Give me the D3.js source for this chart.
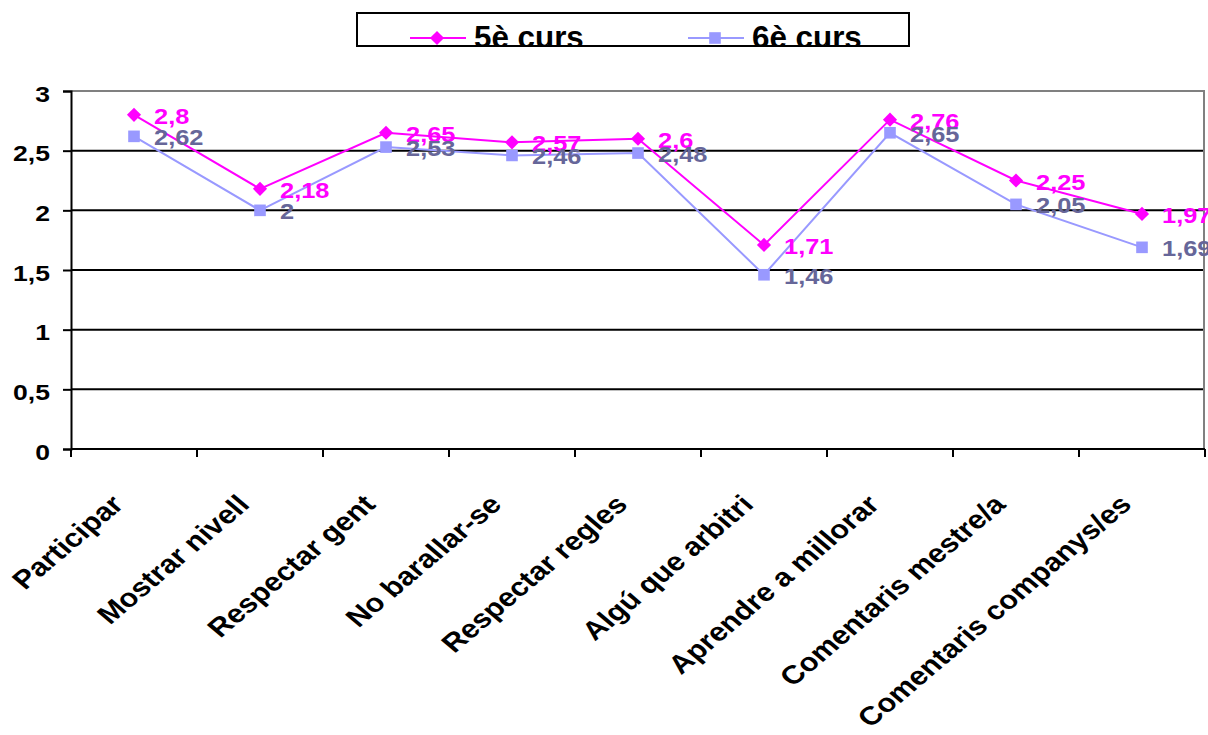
<!doctype html>
<html>
<head>
<meta charset="utf-8">
<title>Chart</title>
<script src="https://cdn.jsdelivr.net/npm/d3@7"></script>
<style>
  body { margin: 0; background: #fff; }
  svg { display: block; }
  text { font-family: "Liberation Sans", Arial, sans-serif; font-weight: bold; }
</style>
</head>
<body>
<script>
// data
var categories = ["Participar", "Mostrar nivell", "Respectar gent", "No barallar-se",
  "Respectar regles", "Algú que arbitri", "Aprendre a millorar",
  "Comentaris mestre/a", "Comentaris companys/es"];
var curs5 = [2.8, 2.18, 2.65, 2.57, 2.6, 1.71, 2.76, 2.25, 1.97];
var curs6 = [2.62, 2, 2.53, 2.46, 2.48, 1.46, 2.65, 2.05, 1.69];
var seriesNames = ["5è curs", "6è curs"];
var yTicks = [0, 0.5, 1, 1.5, 2, 2.5, 3];

var W = 1208, H = 735;
var SX = 1.18; // the original picture is stretched sideways
var fmt = function(v) { return String(v).replace(".", ","); };

var svg = d3.select("body").append("svg")
  .attr("width", W).attr("height", H);

var x = d3.scaleBand().domain(categories).range([71, 1205]);
var y = d3.scaleLinear().domain([0, 3]).range([449, 91]);
var cx = function(d) { return x(d) + x.bandwidth() / 2; };

// gridlines
svg.append("g").selectAll("line")
  .data(yTicks.filter(function(d) { return d > 0 && d < 3; }))
  .enter().append("line")
  .attr("x1", 71).attr("x2", 1204)
  .attr("y1", function(d) { return y(d); }).attr("y2", function(d) { return y(d); })
  .attr("stroke", "#000").attr("stroke-width", 2);

// plot border (top / right)
svg.append("path")
  .attr("d", "M71," + y(3) + "H1204V" + y(0))
  .attr("fill", "none").attr("stroke", "#808080").attr("stroke-width", 2);

// y axis
var yAxis = svg.append("g")
  .attr("transform", "translate(71,0)")
  .call(d3.axisLeft(y).tickValues(yTicks).tickSize(8).tickFormat(fmt));
yAxis.select(".domain").attr("stroke", "#000").attr("stroke-width", 2);
yAxis.selectAll(".tick line").attr("stroke", "#000").attr("stroke-width", 2);
yAxis.selectAll(".tick text")
  .attr("x", null).attr("dy", null)
  .attr("transform", "translate(-21,10) scale(" + SX + ",1)")
  .attr("fill", "#000").attr("font-size", 22.5)
  .style("font-family", "'Liberation Sans', Arial, sans-serif");

// x axis
var xg = svg.append("g");
xg.append("line")
  .attr("x1", 71).attr("x2", 1205).attr("y1", y(0)).attr("y2", y(0))
  .attr("stroke", "#000").attr("stroke-width", 2);
xg.selectAll(".xt")
  .data(categories.map(function(c) { return x(c); }).concat([x.range()[1]]))
  .enter().append("line")
  .attr("x1", function(d) { return d; }).attr("x2", function(d) { return d; })
  .attr("y1", y(0)).attr("y2", y(0) + 8)
  .attr("stroke", "#000").attr("stroke-width", 2);
xg.selectAll(".xl")
  .data(categories)
  .enter().append("text")
  .attr("text-anchor", "end")
  .attr("font-size", 26)
  .attr("transform", function(d) {
    return "translate(" + (cx(d) - 9) + ",506) scale(" + SX + ",1) rotate(-45)";
  })
  .text(function(d) { return d; });

// lines
var series = [
  { name: seriesNames[0], values: curs5, line: "#ff00ff", label: "#ff00ff", rot: 45, size: 100 },
  { name: seriesNames[1], values: curs6, line: "#9999ff", label: "#666699", rot: 0, size: 135 }
];

var line = d3.line()
  .x(function(d, i) { return cx(categories[i]); })
  .y(function(d) { return y(d); });

series.forEach(function(s) {
  svg.append("path")
    .datum(s.values)
    .attr("fill", "none").attr("stroke", s.line).attr("stroke-width", 2)
    .attr("d", line);
});
series.forEach(function(s) {
  svg.append("g").selectAll("path")
    .data(s.values)
    .enter().append("path")
    .attr("d", d3.symbol().type(d3.symbolSquare).size(s.size))
    .attr("transform", function(d, i) {
      return "translate(" + cx(categories[i]) + "," + y(d) + ") rotate(" + s.rot + ")";
    })
    .attr("fill", s.line);
});
series.forEach(function(s) {
  svg.append("g").selectAll("text")
    .data(s.values)
    .enter().append("text")
    .attr("font-size", 22.5)
    .attr("fill", s.label)
    .attr("transform", function(d, i) {
      return "translate(" + (cx(categories[i]) + 20) + "," + (y(d) + 9) + ") scale(1.13,1)";
    })
    .text(fmt);
});

// legend
var defs = svg.append("defs");
defs.append("clipPath").attr("id", "legclip")
  .append("rect").attr("x", 357).attr("y", 13).attr("width", 552).attr("height", 33);
var leg = svg.append("g");
leg.append("rect")
  .attr("x", 357).attr("y", 13).attr("width", 552).attr("height", 33)
  .attr("fill", "#fff").attr("stroke", "#000").attr("stroke-width", 2);
var legX = [410, 688];
var legItems = leg.append("g").attr("clip-path", "url(#legclip)")
  .selectAll("g").data(series).enter().append("g")
  .attr("transform", function(d, i) { return "translate(" + legX[i] + ",0)"; });
legItems.append("line")
  .attr("x1", 0).attr("x2", 56).attr("y1", 38).attr("y2", 38)
  .attr("stroke", function(d) { return d.line; }).attr("stroke-width", 2);
legItems.append("path")
  .attr("d", function(d) { return d3.symbol().type(d3.symbolSquare).size(d.size)(); })
  .attr("transform", function(d) { return "translate(27,38) rotate(" + d.rot + ")"; })
  .attr("fill", function(d) { return d.line; });
legItems.append("text")
  .attr("font-size", 32)
  .attr("transform", "translate(64,47.5) scale(0.98,1)")
  .text(function(d) { return d.name; });
// redraw the bottom edge over the clipped text
leg.append("line")
  .attr("x1", 357).attr("x2", 909).attr("y1", 46).attr("y2", 46)
  .attr("stroke", "#000").attr("stroke-width", 2);
</script>
</body>
</html>
